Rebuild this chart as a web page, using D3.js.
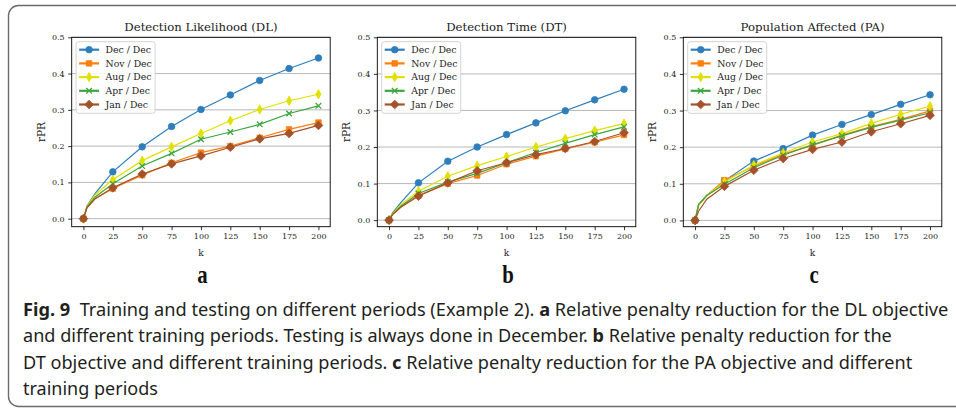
<!DOCTYPE html>
<html>
<head>
<meta charset="utf-8">
<script src="https://cdn.jsdelivr.net/npm/d3@7"></script>
<style>
  body { margin: 0; background: #fff; }
  svg { display: block; }
</style>
</head>
<body>
<div id="chart"></div>
<script>
// Data
const kValues = [0, 3, 10, 25, 50, 75, 100, 125, 150, 175, 200];
const seriesNames = ["Dec / Dec", "Nov / Dec", "Aug / Dec", "Apr / Dec", "Jan / Dec"];
const panelTitles = ["Detection Likelihood (DL)", "Detection Time (DT)", "Population Affected (PA)"];
const panelLetters = ["a", "b", "c"];
const xTicks = [0, 25, 50, 75, 100, 125, 150, 175, 200];
const yTicks = [0.0, 0.1, 0.2, 0.3, 0.4, 0.5];

const dlValues = [
  [0, 0.035, 0.070, 0.129, 0.198, 0.254, 0.301, 0.341, 0.381, 0.414, 0.443],
  [0, 0.030, 0.055, 0.083, 0.120, 0.154, 0.182, 0.200, 0.223, 0.246, 0.265],
  [0, 0.034, 0.066, 0.107, 0.160, 0.198, 0.235, 0.270, 0.301, 0.325, 0.343],
  [0, 0.032, 0.060, 0.096, 0.145, 0.180, 0.219, 0.239, 0.260, 0.290, 0.311],
  [0, 0.030, 0.055, 0.085, 0.123, 0.151, 0.173, 0.197, 0.220, 0.235, 0.257]
];
const dtValues = [
  [0, 0.020, 0.048, 0.102, 0.161, 0.200, 0.234, 0.266, 0.299, 0.329, 0.358],
  [0, 0.016, 0.036, 0.067, 0.100, 0.122, 0.153, 0.175, 0.195, 0.213, 0.233],
  [0, 0.018, 0.042, 0.079, 0.120, 0.149, 0.174, 0.200, 0.223, 0.245, 0.264],
  [0, 0.016, 0.038, 0.073, 0.104, 0.128, 0.157, 0.185, 0.210, 0.234, 0.255],
  [0, 0.015, 0.035, 0.066, 0.102, 0.135, 0.157, 0.179, 0.196, 0.215, 0.239]
];
const paValues = [
  [0, 0.042, 0.068, 0.108, 0.162, 0.196, 0.233, 0.262, 0.289, 0.317, 0.343],
  [0, 0.042, 0.068, 0.110, 0.148, 0.181, 0.205, 0.233, 0.256, 0.276, 0.299],
  [0, 0.042, 0.068, 0.105, 0.151, 0.184, 0.214, 0.237, 0.265, 0.290, 0.312],
  [0, 0.044, 0.068, 0.099, 0.144, 0.178, 0.207, 0.231, 0.254, 0.274, 0.294],
  [0, 0.025, 0.058, 0.093, 0.137, 0.169, 0.194, 0.214, 0.242, 0.264, 0.287]
];
const panelValues = [dlValues, dtValues, paValues];

const captionLines = [
  [["Fig. 9", true], ["  Training and testing on different periods (Example 2). ", false], ["a", true], [" Relative penalty reduction for the DL objective", false]],
  [["and different training periods. Testing is always done in December. ", false], ["b", true], [" Relative penalty reduction for the", false]],
  [["DT objective and different training periods. ", false], ["c", true], [" Relative penalty reduction for the PA objective and different", false]],
  [["training periods", false]]
];

// Styles
const colors = ["#2f7ebc", "#ff7f0e", "#e0e000", "#3da53d", "#a5522a"];
const serif = "'DejaVu Serif', serif";
const W = 956, H = 408;
const panelLefts = [71.7, 377.3, 683.3];
const plotW = 258.5, plotTop = 37.3, plotBottom = 226.7;

// Marker shapes: circle, square, thin diamond, x, diamond
const thinDiamond = { draw(ctx, size) { const h = Math.sqrt(size) * 0.85, w = h * 0.55;
  ctx.moveTo(0, -h); ctx.lineTo(w, 0); ctx.lineTo(0, h); ctx.lineTo(-w, 0); ctx.closePath(); } };
const fatDiamond = { draw(ctx, size) { const h = Math.sqrt(size) * 0.75;
  ctx.moveTo(0, -h); ctx.lineTo(h, 0); ctx.lineTo(0, h); ctx.lineTo(-h, 0); ctx.closePath(); } };
const symbols = [
  d3.symbol(d3.symbolCircle, 34),
  d3.symbol(d3.symbolSquare, 30),
  d3.symbol(thinDiamond, 30),
  d3.symbol(d3.symbolX, 22),
  d3.symbol(fatDiamond, 34)
];

const svg = d3.select("#chart").append("svg")
  .attr("width", W).attr("height", H);

// Frame around the figure
svg.append("rect")
  .attr("x", 8.5).attr("y", 5.5)
  .attr("width", 1000).attr("height", 401)
  .attr("rx", 10)
  .attr("fill", "none").attr("stroke", "#6b6b6b").attr("stroke-width", 1.4);

panelValues.forEach((values, p) => {
  const left = panelLefts[p], right = left + plotW;
  const yMin = -0.05 * d3.max(values.flat());

  const x = d3.scaleLinear().domain([-10, 210]).range([left, right]);
  const y = d3.scaleLinear().domain([yMin, 0.5]).range([plotBottom, plotTop]);

  const g = svg.append("g");

  // Grid lines
  g.selectAll(".grid")
    .data(yTicks)
    .join("line")
      .attr("x1", left).attr("x2", right)
      .attr("y1", d => y(d)).attr("y2", d => y(d))
      .attr("stroke", "#b0b0b0").attr("stroke-width", 0.9);

  // Axes
  const xAxis = g.append("g")
    .attr("transform", `translate(0,${plotBottom})`)
    .call(d3.axisBottom(x).tickValues(xTicks).tickSize(3.5).tickPadding(3));
  const yAxis = g.append("g")
    .attr("transform", `translate(${left},0)`)
    .call(d3.axisLeft(y).tickValues(yTicks).tickFormat(d3.format(".1f")).tickSize(3.5).tickPadding(3.5));
  [xAxis, yAxis].forEach(a => {
    a.select(".domain").remove();
    a.selectAll("line").attr("stroke", "#000").attr("stroke-width", 0.8);
    a.selectAll("text").attr("font-family", serif).attr("font-size", 8).attr("fill", "#222");
  });

  // Box
  g.append("rect")
    .attr("x", left).attr("y", plotTop)
    .attr("width", plotW).attr("height", plotBottom - plotTop)
    .attr("fill", "none").attr("stroke", "#000").attr("stroke-width", 0.9);

  // Lines and markers
  const line = d3.line().x((d, i) => x(kValues[i])).y(d => y(d));
  values.forEach((vals, s) => {
    g.append("path")
      .attr("d", line(vals))
      .attr("fill", "none").attr("stroke", colors[s]).attr("stroke-width", 1.2);
    g.selectAll(`.m${s}`)
      .data(vals.map((v, i) => [kValues[i], v]).filter(d => d[0] % 25 === 0))
      .join("path")
        .attr("transform", d => `translate(${x(d[0])},${y(d[1])})`)
        .attr("d", symbols[s]())
        .attr("fill", s === 3 ? "none" : colors[s])
        .attr("stroke", colors[s]).attr("stroke-width", s === 3 ? 1.3 : 0.8);
  });

  // Title and axis labels
  g.append("text")
    .attr("x", (left + right) / 2).attr("y", 31)
    .attr("text-anchor", "middle")
    .attr("font-family", serif).attr("font-size", 11.7).attr("fill", "#222")
    .text(panelTitles[p]);
  g.append("text")
    .attr("transform", `translate(${left - 27},${(plotTop + plotBottom) / 2}) rotate(-90)`)
    .attr("text-anchor", "middle")
    .attr("font-family", serif).attr("font-size", 10.6).attr("fill", "#222")
    .text("rPR");
  g.append("text")
    .attr("x", (left + right) / 2).attr("y", 255.5)
    .attr("text-anchor", "middle")
    .attr("font-family", serif).attr("font-size", 9).attr("fill", "#222")
    .text("k");
  // panel letter, narrow bold serif
  g.append("text")
    .attr("transform", `translate(${(left + right) / 2 + 1.5},283) scale(0.8,1)`)
    .attr("text-anchor", "middle")
    .attr("font-family", "'Liberation Serif', serif").attr("font-weight", "bold")
    .attr("font-size", 26).attr("fill", "#111")
    .text(panelLetters[p]);

  // Legend
  const lg = g.append("g").attr("transform", `translate(${left + 4.4},${plotTop + 4.4})`);
  lg.append("rect")
    .attr("width", 79).attr("height", 71.6).attr("rx", 2.5)
    .attr("fill", "#fff").attr("fill-opacity", 0.85)
    .attr("stroke", "#d0d0d0").attr("stroke-width", 0.9);
  seriesNames.forEach((name, s) => {
    const cy = 8 + s * 13.7;
    lg.append("line")
      .attr("x1", 3).attr("x2", 23).attr("y1", cy).attr("y2", cy)
      .attr("stroke", colors[s]).attr("stroke-width", 2.2);
    lg.append("path")
      .attr("transform", `translate(13,${cy})`)
      .attr("d", symbols[s]())
      .attr("fill", s === 3 ? "none" : colors[s])
      .attr("stroke", colors[s]).attr("stroke-width", s === 3 ? 1.3 : 0.8);
    lg.append("text")
      .attr("x", 29.5).attr("y", cy).attr("dy", "0.35em")
      .attr("font-family", serif).attr("font-size", 9.3).attr("fill", "#222")
      .text(name);
  });
});

// Caption, each line squeezed to the width it has in the figure
const captionLeft = 23;
const captionEnds = [949, 892, 913, 158];
captionLines.forEach((parts, i) => {
  const t = svg.append("text")
    .attr("x", 0).attr("y", 0)
    .attr("font-family", "'Noto Sans', sans-serif").attr("font-size", 18.5)
    .attr("fill", "#231f20")
    .style("white-space", "pre");
  parts.forEach(([str, bold]) => {
    t.append("tspan").attr("font-weight", bold ? "bold" : "normal").text(str);
  });
  const natural = t.node().getComputedTextLength();
  const squeeze = (captionEnds[i] - captionLeft) / natural;
  t.attr("transform", `translate(${captionLeft},${316 + i * 26.3}) scale(${squeeze},1)`);
});
</script>
</body>
</html>
